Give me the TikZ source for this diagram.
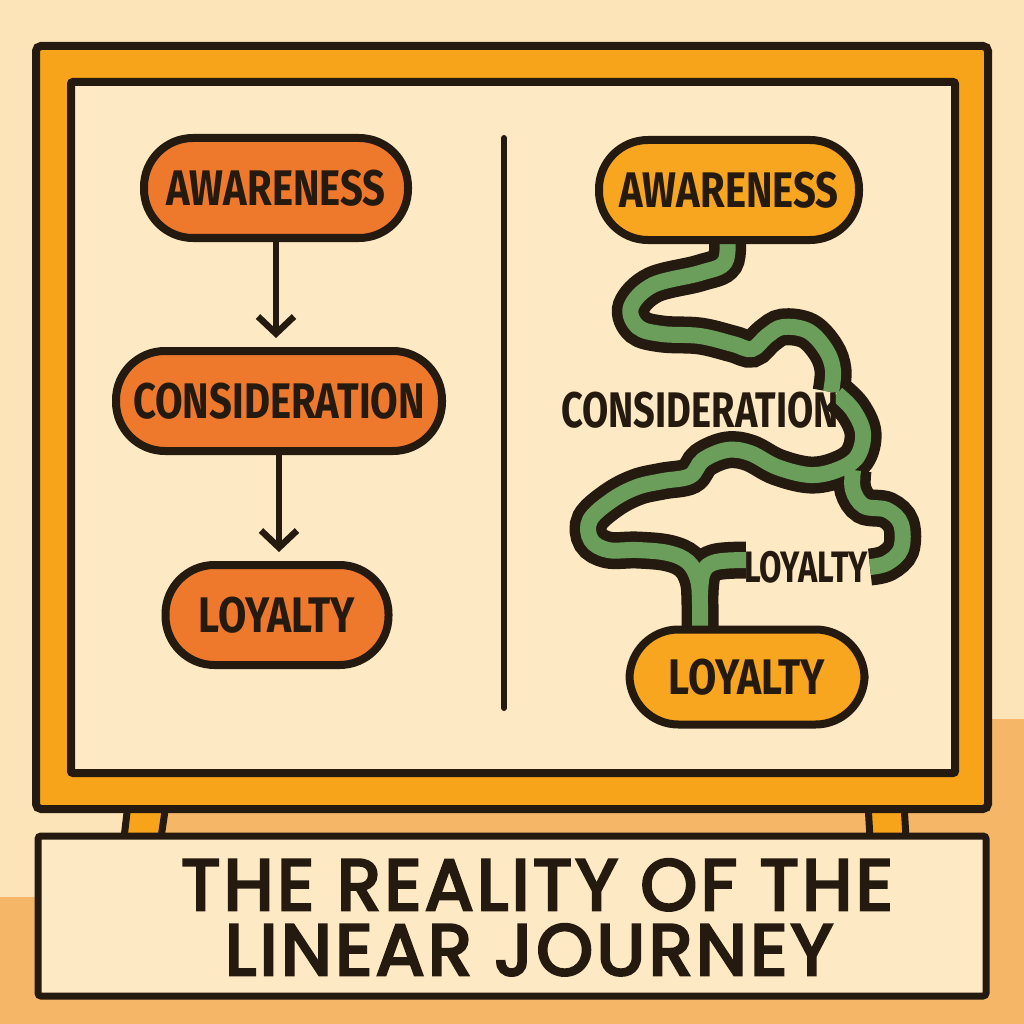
\documentclass[tikz,border=0pt]{standalone}
\usepackage{fontspec}
\newfontfamily\boxfont{Fira Sans}
\newfontfamily\capfont{Poppins}[FakeBold=4, LetterSpace=5]
\usetikzlibrary{arrows.meta}
\definecolor{bglight}{RGB}{252,228,184}
\definecolor{bgdark}{RGB}{245,182,104}
\definecolor{frameor}{RGB}{248,164,26}
\definecolor{panel}{RGB}{253,233,195}
\definecolor{ink}{RGB}{36,26,16}
\definecolor{leftbox}{RGB}{238,121,45}
\definecolor{rightbox}{RGB}{248,166,32}
\definecolor{tubegreen}{RGB}{106,158,90}
\newcommand\nar[2][0.8]{\scalebox{#1}[1]{#2}}
\pgfdeclarelayer{back}
\pgfdeclarelayer{tubes}
\pgfsetlayers{back,tubes,main}
\begin{document}
\begin{tikzpicture}[x=1pt,y=-1pt,
  pill/.style={draw=ink, line width=8pt, rounded corners=49pt, minimum height=100pt, inner sep=0pt},
  lpill/.style={pill, fill=leftbox},
  rpill/.style={pill, fill=rightbox},
  lbl/.style={text=ink, font=\boxfont\bfseries\fontsize{50}{50}\selectfont},
  freelbl/.style={text=ink, inner sep=0pt, font=\boxfont\bfseries\fontsize{50}{50}\selectfont},
  captext/.style={text=ink, inner sep=0pt, anchor=base, font=\capfont\fontsize{72}{72}\selectfont},
  arr/.style={draw=ink, line width=6.5pt, -{Straight Barb[length=17pt,width=36pt]}},
  tubeout/.style={draw=ink, line width=37pt},
  tubein/.style={draw=tubegreen, line width=16pt},
  legstyle/.style={fill=frameor, draw=ink, line width=7pt, line join=round},
]
\useasboundingbox (0,0) rectangle (1024,1024);

\begin{pgfonlayer}{back}
  \fill[bglight] (0,0) rectangle (1024,1024);
  \fill[bgdark] (165,719) rectangle (1024,1024);
  \fill[bgdark] (0,897) rectangle (1024,1024);
  % legs
  \filldraw[legstyle] (128,804) -- (166,804) -- (161,838) -- (124,838) -- cycle;
  \filldraw[legstyle] (868,804) -- (904,804) -- (906,838) -- (870,838) -- cycle;
  % frame and panel
  \filldraw[fill=frameor, draw=ink, line width=8pt, rounded corners=5pt] (36,46) rectangle (988,809);
  \filldraw[fill=panel, draw=ink, line width=8pt, rounded corners=2pt] (71,82) rectangle (955,773);
  % caption board
  \filldraw[fill=panel, draw=ink, line width=7pt, rounded corners=3pt] (38,836) rectangle (986,996);
  % divider
  \coordinate (d1) at (504,138);
  \coordinate (d2) at (504,708);
  \draw[ink, line width=6pt, line cap=round] (d1) -- (d2);
\end{pgfonlayer}

% ---------- left column ----------
\node[lpill, minimum width=264pt] (la) at (276,188) {};
\node[lbl] at (la) {\nar{AWARENESS}};
\node[lpill, minimum width=326pt] (lc) at (279,401) {};
\node[lbl] at (lc) {\nar{CONSIDERATION}};
\node[lpill, minimum width=223pt] (ll) at (277,615) {};
\node[lbl] at (ll) {\nar[0.82]{LOYALTY}};
\draw[arr, shorten >=9pt] (la.south) -- (la.south |- lc.north);
\draw[arr, shorten >=9pt] (lc.south) -- (lc.south |- ll.north);

% ---------- right column ----------
\node[rpill, minimum width=260pt] (ra) at (729,190) {};
\node[lbl] at (ra) {\nar{AWARENESS}};
\node[rpill, minimum width=235pt, minimum height=95pt] (rl) at (747,677) {};
\node[lbl] at (rl) {\nar[0.82]{LOYALTY}};
\node[freelbl] (rc) at (700,410) {\nar[0.76]{CONSIDERATION}};
\node[freelbl, font=\boxfont\bfseries\fontsize{44}{44}\selectfont] (rsl) at (806,567) {\nar[0.74]{LOYALTY}};

% ---------- winding tube ----------
\begin{pgfonlayer}{tubes}
  \coordinate (ta) at (727,232);
  \coordinate (tb) at (837,394);
  \coordinate (tl) at (700,636);
  \coordinate (tk) at (853,470);
  \foreach \s in {tubeout,tubein}{
    \draw[\s] plot[smooth, tension=0.6] coordinates {(ta) (725,262) (700,273) (653,285) (631,307) (638,327) (662,334) (700,336) (733,344) (752,349) (767,336) (783,327) (808,331) (826,350) (833,370) (831,392)};
    \draw[\s] plot[smooth, tension=0.6] coordinates {(tb) (853,410) (863,433) (857,457) (837,470) (810,475) (777,467) (750,453) (727,450) (703,460) (690,476) (663,481) (637,487) (612,500) (590,520) (591,540) (608,550) (637,550) (668,553) (688,562) (698,580) (700,605) (tl)};
    \draw[\s] plot[smooth, tension=0.6] coordinates {(700,595) (703,572) (716,562) (746,560)};
    \draw[\s] plot[smooth, tension=0.6] coordinates {(tk) (853,490) (864,506) (887,510) (901,524) (901,549) (887,563) (870,567)};
  }
\end{pgfonlayer}

% ---------- caption ----------
\node[captext] (t1) at (537,910) {THE REALITY OF THE};
\node[captext] (t2) at (529,975) {LINEAR JOURNEY};
\end{tikzpicture}
\end{document}
